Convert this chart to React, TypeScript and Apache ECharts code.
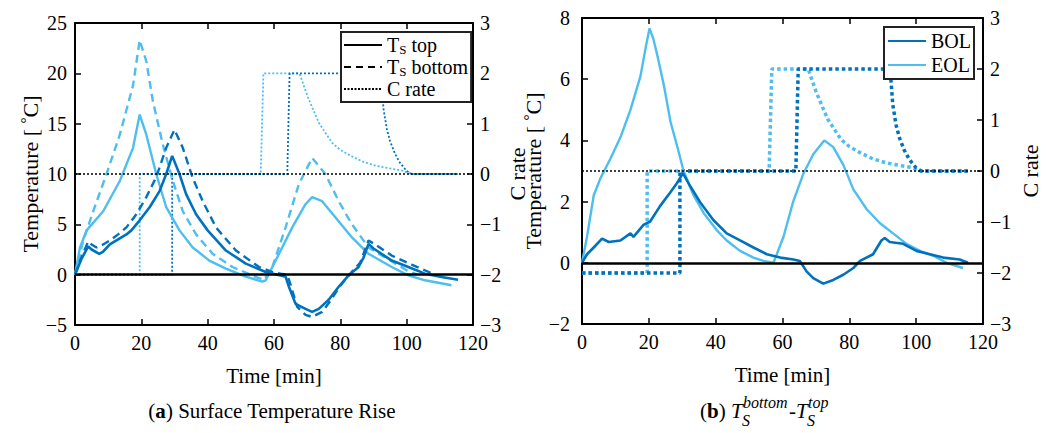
import React, { useEffect, useRef } from "react";
import * as echarts from "echarts";

// ---------- data ----------
const timeRange = [0, 120];
const timeInterval = 20;
const tempRangeA = [-5, 25];
const tempIntervalA = 5;
const tempRangeB = [-2, 8];
const tempIntervalB = 2;
const cRateRange = [-3, 3];
const cRateInterval = 1;

// (a) surface temperature rise [time min, deg C]
const bolTop = [
  [0, 0], [2, 1.6], [4, 2.8], [5, 2.5], [7.3, 2.07], [8.5, 2.3], [10.5, 3.0], [13, 3.5],
  [15.5, 4.0], [17, 4.4], [19.5, 5.4], [22.5, 6.7], [25.5, 8.3], [27.5, 10], [29.3, 11.8],
  [31.5, 10], [33.5, 8], [36.5, 6], [40, 4.4], [45.5, 2.4], [51.5, 1.1], [57.5, 0.26],
  [61, 0], [63.5, -0.2], [64.5, -1.2], [66.5, -2.9], [69.5, -3.4], [71.5, -3.7], [73.5, -3.4],
  [76.5, -2.5], [79.5, -1.2], [82.5, -0.07], [85.5, 0.76], [87, 1.7], [88.5, 3.06], [90, 2.6],
  [95.5, 1.4], [100.5, 0.76], [105.5, 0.1], [110.5, -0.23], [115.5, -0.5],
];
const bolBottom = [
  [0, 0], [2, 1.8], [4, 3.3], [5, 3.0], [6.5, 2.7], [8.5, 3.0], [10.5, 3.4], [13, 4.0],
  [15.5, 4.7], [18.5, 6.0], [21.5, 7.7], [24.5, 9.7], [27.5, 12.6], [30, 14.4], [32.5, 12.6],
  [35.5, 9.6], [38.5, 7.3], [42.5, 4.7], [48.5, 2.4], [55.5, 0.76], [59.5, 0.26], [62, 0.1],
  [64, 0], [65, -1.0], [67, -3.2], [69.5, -4.0], [71.5, -4.2], [74.5, -3.7], [77, -2.6],
  [80, -1.1], [83, 0.1], [86, 1.2], [88.5, 3.4], [90, 3.1], [95.5, 1.9], [101.5, 1.0], [107.5, 0.15],
];
const eolTop = [
  [0, 0], [1.5, 2.7], [3.5, 4.4], [8.5, 6.3], [13.5, 9.3], [17.5, 12.6], [19.5, 15.9],
  [21.5, 13.9], [24.5, 10], [27.5, 6.7], [31.5, 4.4], [35.5, 2.7], [40.5, 1.4], [45.5, 0.6],
  [51.5, -0.2], [56.5, -0.7], [57.5, -0.56], [60.5, 1.4], [65.5, 4.7], [69.5, 7.0], [71.5, 7.7],
  [74.5, 7.3], [78.5, 5.7], [83.5, 3.7], [88.5, 2.07], [95.5, 0.76], [100.5, -0.07],
  [105.5, -0.56], [113.5, -1.05],
];
const eolBottom = [
  [0, 0], [2.5, 3.4], [5.5, 6.3], [9.5, 10], [13.5, 13.9], [17.5, 18.8], [19.5, 23.3],
  [21.5, 21.2], [23.5, 17.2], [26.5, 12.9], [29.5, 9.3], [32.5, 6.3], [36.5, 4.0], [41.5, 2.07],
  [47.5, 0.76], [51.5, 0.2], [55, -0.3], [57, -0.5], [59.5, 0.76], [63.5, 4.7], [67.5, 9.0],
  [71.5, 11.6], [75.5, 10], [79.5, 7.3], [83.5, 5.0], [88.5, 2.7], [93.5, 1.7], [100.5, 0.35],
  [103, 0.05],
];

// C rate profiles
const cRateBol = [
  [0, -2], [29.3, -2], [29.3, 0], [64, 0], [64.7, 2], [92.2, 2], [93, 1.3], [94, 0.9],
  [95, 0.65], [96.5, 0.4], [98, 0.22], [100, 0.06], [101.5, 0], [115.5, 0],
];
const cRateEol = [
  [0, -2], [19.5, -2], [19.5, 0], [56, 0], [56.8, 2], [67.7, 2], [69, 1.75], [70.2, 1.53],
  [72, 1.25], [73.5, 1.02], [75.5, 0.82], [77.5, 0.62], [80, 0.48], [83.5, 0.35], [87, 0.24],
  [91, 0.16], [95, 0.11], [98.5, 0.07], [101.5, 0], [115.5, 0],
];

// (b) bottom - top difference
const bolDiff = [
  [0, 0], [1.5, 0.28], [3.5, 0.5], [6, 0.79], [8, 0.68], [11.5, 0.73], [14.5, 0.96], [15.4, 0.85],
  [18.4, 1.24], [20.4, 1.35], [23.4, 1.86], [26.4, 2.3], [28.4, 2.6], [30.2, 2.93], [32.4, 2.5],
  [35.4, 1.97], [39.3, 1.4], [43.3, 0.96], [47.3, 0.73], [51.3, 0.5], [55.3, 0.28], [59.3, 0.17],
  [63.3, 0.11], [65.2, 0.06], [67.2, -0.28], [69.2, -0.5], [72.2, -0.68], [75.2, -0.56],
  [78.2, -0.39], [81.2, -0.17], [83.2, 0.06], [87.1, 0.28], [89.6, 0.73], [90.6, 0.81],
  [92.1, 0.68], [96.1, 0.62], [100.1, 0.39], [104.1, 0.28], [108.1, 0.17], [113, 0.11], [115.5, 0],
];
const eolDiff = [
  [0, 0], [1.5, 0.85], [3.5, 2.2], [5.5, 2.76], [8.5, 3.4], [11.5, 4.1], [14.5, 5.0], [17.5, 6.1],
  [19, 7.0], [20.2, 7.66], [21.4, 7.3], [22.5, 6.8], [24.5, 5.8], [26.5, 4.6], [28.5, 3.8],
  [30.4, 3.0], [33.4, 2.2], [36.4, 1.63], [40.3, 1.07], [43.3, 0.73], [47.3, 0.39], [51.3, 0.17],
  [54.3, 0.06], [57.3, 0], [60.3, 0.85], [63.2, 2.0], [66.2, 2.9], [69.2, 3.55], [72.5, 4.0],
  [75.2, 3.78], [78.2, 3.2], [81.2, 2.4], [85.2, 1.75], [89.1, 1.3], [93.1, 0.96], [97.1, 0.62],
  [101.1, 0.39], [105.1, 0.23], [109.1, 0], [114, -0.17],
];

const legendA = ["T_S top", "T_S bottom", "C rate"];
const legendB = ["BOL", "EOL"];

// ---------- styling ----------
const DARK = "#0072BD";
const LIGHT = "#4DBEEE";
const FONT = "Liberation Serif";
const minus = (v: number) => String(v).replace("-", "\u2212");

const axisLine = { show: true, onZero: false, lineStyle: { color: "#000", width: 2 } };
const axisTick = { show: true, inside: true, length: 6, lineStyle: { color: "#000", width: 1.5 } };
const labelStyle = { color: "#000", fontFamily: FONT, fontSize: 20, formatter: minus };

function xAxes(gridIndex: number) {
  return [
    {
      type: "value", gridIndex, min: timeRange[0], max: timeRange[1], interval: timeInterval,
      position: "bottom", axisLine, axisTick, splitLine: { show: false },
      axisLabel: { ...labelStyle, margin: 8 },
      name: "Time [min]", nameLocation: "middle", nameGap: 40,
      nameTextStyle: { color: "#000", fontFamily: FONT, fontSize: 21 },
    },
    {
      type: "value", gridIndex, min: timeRange[0], max: timeRange[1], interval: timeInterval,
      position: "top", axisLine, axisTick, splitLine: { show: false }, axisLabel: { show: false },
    },
  ];
}

const tempName = "{n|Temperature [ }{d|°}{n|C]}";
const tempNameStyle = {
  color: "#000", fontFamily: FONT, fontSize: 22,
  rich: {
    n: { color: "#000", fontFamily: FONT, fontSize: 22, lineHeight: 24 },
    d: { color: "#000", fontFamily: FONT, fontSize: 15, lineHeight: 12, verticalAlign: "top" },
  },
};
const cNameStyle = { color: "#000", fontFamily: FONT, fontSize: 22 };

function mk(name: string, data: number[][], xi: number, yi: number, color: string, type: any, width: number, extra: any = {}) {
  return {
    type: "line", name, data, xAxisIndex: xi, yAxisIndex: yi, symbol: "none", showSymbol: false,
    silent: true, color, lineStyle: { color, width, type }, itemStyle: { color }, ...extra,
  };
}

const zeroSolid = {
  markLine: {
    silent: true, symbol: "none", label: { show: false },
    lineStyle: { color: "#000", width: 2.5, type: "solid" }, data: [{ yAxis: 0 }],
  },
};
const zeroDotted = {
  markLine: {
    silent: true, symbol: "none", label: { show: false },
    lineStyle: { color: "#000", width: 1.5, type: [2, 2] }, data: [{ yAxis: 0 }],
  },
};

const subRich = {
  t: { color: "#000", fontFamily: FONT, fontSize: 20, lineHeight: 22 },
  s: { color: "#000", fontFamily: FONT, fontSize: 13, lineHeight: 12, verticalAlign: "bottom" },
};

const hiddenSymbol = { color: "transparent", borderColor: "transparent", borderWidth: 0 };

export default function App() {
  const ref = useRef<HTMLDivElement>(null);
  useEffect(() => {
    document.body.style.margin = "0";
    if (!ref.current) return;
    const chart = echarts.init(ref.current, undefined, { renderer: "svg" });
    const option: any = {
      animation: false,
      backgroundColor: "#fff",
      textStyle: { fontFamily: FONT },
      grid: [
        { left: 75, top: 23, width: 398, height: 302, containLabel: false },
        { left: 582, top: 18, width: 401, height: 306, containLabel: false },
      ],
      xAxis: [...xAxes(0), ...xAxes(1)],
      yAxis: [
        {
          type: "value", gridIndex: 0, position: "left", min: tempRangeA[0], max: tempRangeA[1],
          interval: tempIntervalA, axisLine, axisTick, splitLine: { show: false },
          axisLabel: { ...labelStyle, margin: 8 },
          name: tempName, nameLocation: "middle", nameRotate: 90, nameGap: 33, nameTextStyle: tempNameStyle,
        },
        {
          type: "value", gridIndex: 0, position: "right", min: cRateRange[0], max: cRateRange[1],
          interval: cRateInterval, axisLine, axisTick, splitLine: { show: false },
          axisLabel: { ...labelStyle, margin: 7 },
          name: "C rate", nameLocation: "middle", nameRotate: 90, nameGap: 33, nameTextStyle: cNameStyle,
        },
        {
          type: "value", gridIndex: 1, position: "left", min: tempRangeB[0], max: tempRangeB[1],
          interval: tempIntervalB, axisLine, axisTick, splitLine: { show: false },
          axisLabel: { ...labelStyle, margin: 12 },
          name: tempName, nameLocation: "middle", nameRotate: 90, nameGap: 31, nameTextStyle: tempNameStyle,
        },
        {
          type: "value", gridIndex: 1, position: "right", min: cRateRange[0], max: cRateRange[1],
          interval: cRateInterval, axisLine, axisTick, splitLine: { show: false },
          axisLabel: { ...labelStyle, margin: 7 },
          name: "C rate", nameLocation: "middle", nameRotate: 90, nameGap: 36, nameTextStyle: cNameStyle,
        },
      ],
      legend: [
        {
          data: legendA, left: 341, top: 32, orient: "vertical", selectedMode: false,
          backgroundColor: "#fff", borderColor: "#222", borderWidth: 2, padding: [3, 3, 3, 2],
          itemWidth: 38, itemHeight: 14, itemGap: 1, itemStyle: hiddenSymbol,
          textStyle: { color: "#000", fontFamily: FONT, fontSize: 20, rich: subRich },
          formatter: (n: string) =>
            n.startsWith("T_S") ? `{t|T}{s|S}{t|${n.slice(3)}}` : `{t|${n}}`,
        },
        {
          data: legendB, left: 884, top: 27, orient: "vertical", selectedMode: false,
          backgroundColor: "#fff", borderColor: "#222", borderWidth: 2, padding: [3, 3, 3, 3],
          itemWidth: 38, itemHeight: 14, itemGap: 2, itemStyle: hiddenSymbol,
          textStyle: { color: "#000", fontFamily: FONT, fontSize: 20, lineHeight: 22 },
        },
      ],
      series: [
        // (a)
        mk("EOL C a", cRateEol, 0, 1, LIGHT, [2, 2], 1.8),
        mk("BOL C a", cRateBol, 0, 1, DARK, [2, 2], 1.8, zeroDotted),
        mk("EOL bottom a", eolBottom, 0, 0, LIGHT, [8, 5], 2.4),
        mk("EOL top a", eolTop, 0, 0, LIGHT, "solid", 2.4),
        mk("BOL bottom a", bolBottom, 0, 0, DARK, [8, 5], 2.4),
        mk("BOL top a", bolTop, 0, 0, DARK, "solid", 2.6, zeroSolid),
        // legend proxies for (a)
        mk("T_S top", [], 0, 0, "#000", "solid", 2.8),
        mk("T_S bottom", [], 0, 0, "#000", [7, 5], 2.2),
        mk("C rate", [], 0, 0, "#000", [2, 1.5], 2.2),
        // (b)
        mk("EOL C b", cRateEol, 2, 3, LIGHT, [3.5, 3], 3.5),
        mk("BOL C b", cRateBol, 2, 3, DARK, [3.5, 3], 3.5, zeroDotted),
        mk("EOL", eolDiff, 2, 2, LIGHT, "solid", 2.4),
        mk("BOL", bolDiff, 2, 2, DARK, "solid", 2.6, zeroSolid),
      ],
      graphic: [
        {
          type: "text", x: 272, y: 411, silent: true,
          style: {
            text: "{n|(}{b|a}{n|) Surface Temperature Rise}", align: "center", verticalAlign: "middle",
            rich: {
              n: { fill: "#000", fontFamily: FONT, fontSize: 21 },
              b: { fill: "#000", fontFamily: FONT, fontSize: 21, fontWeight: "bold" },
            },
          },
        },
        {
          type: "group", x: 700, y: 411, silent: true,
          children: [
            {
              type: "text", x: 0, y: 0,
              style: {
                text: "{n|(}{b|b}{n|)}", align: "left", verticalAlign: "middle",
                rich: {
                  n: { fill: "#000", fontFamily: FONT, fontSize: 21 },
                  b: { fill: "#000", fontFamily: FONT, fontSize: 21, fontWeight: "bold" },
                },
              },
            },
            { type: "text", x: 31, y: 0, style: { text: "T", fill: "#000", fontFamily: FONT, fontStyle: "italic", fontSize: 21, align: "left", verticalAlign: "middle" } },
            { type: "text", x: 43, y: -9, style: { text: "bottom", fill: "#000", fontFamily: FONT, fontStyle: "italic", fontSize: 16, align: "left", verticalAlign: "middle" } },
            { type: "text", x: 42, y: 9, style: { text: "S", fill: "#000", fontFamily: FONT, fontStyle: "italic", fontSize: 16, align: "left", verticalAlign: "middle" } },
            { type: "text", x: 89, y: 0, style: { text: "-", fill: "#000", fontFamily: FONT, fontSize: 21, align: "left", verticalAlign: "middle" } },
            { type: "text", x: 96, y: 0, style: { text: "T", fill: "#000", fontFamily: FONT, fontStyle: "italic", fontSize: 21, align: "left", verticalAlign: "middle" } },
            { type: "text", x: 108, y: -9, style: { text: "top", fill: "#000", fontFamily: FONT, fontStyle: "italic", fontSize: 16, align: "left", verticalAlign: "middle" } },
            { type: "text", x: 107, y: 9, style: { text: "S", fill: "#000", fontFamily: FONT, fontStyle: "italic", fontSize: 16, align: "left", verticalAlign: "middle" } },
          ],
        },
      ],
    };
    chart.setOption(option);
    return () => chart.dispose();
  }, []);
  return <div ref={ref} style={{ width: 1046, height: 433 }} />;
}
